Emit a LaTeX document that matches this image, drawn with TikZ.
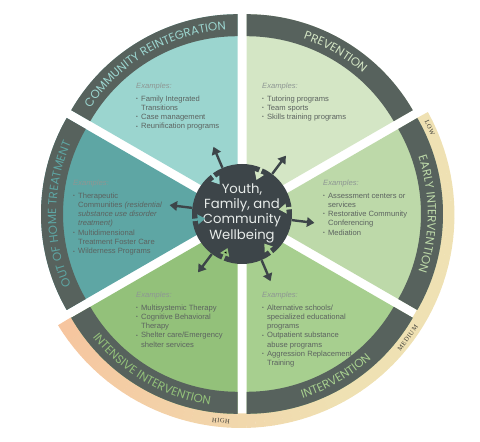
\documentclass[tikz,border=0pt]{standalone}
\usepackage{fontspec}
\setmainfont{Liberation Sans}
\newfontfamily\popfont{Poppins}
\newfontfamily\lvlfont[LetterSpace=8]{Liberation Serif}
\usetikzlibrary{arrows.meta,decorations.text,calc}

\definecolor{band}{HTML}{57625D}
\definecolor{hubc}{HTML}{3D4549}
\definecolor{crc}{HTML}{9BD5CF}
\definecolor{ooc}{HTML}{5EA6A4}
\definecolor{isc}{HTML}{93C17A}
\definecolor{ivc}{HTML}{A7CF8F}
\definecolor{eic}{HTML}{BDD9A9}
\definecolor{pvc}{HTML}{D4E6C5}
\definecolor{bodyc}{HTML}{5C6360}
\definecolor{exc}{HTML}{8E9693}
\definecolor{tanc}{HTML}{EFE1B3}
\definecolor{peachc}{HTML}{F6C49E}
\definecolor{lvlc}{HTML}{3A3A36}
\definecolor{hubtextc}{HTML}{E8ECEA}

\newcommand\titlefont{\popfont\fontsize{11.8}{12}\selectfont}
\newcommand\exlabel{\multicolumn{2}{@{}l@{}}{\color{exc}\itshape Examples:}}
\newcommand\bul{\raisebox{0.8pt}{\fontsize{5}{5}\selectfont\textbullet}}
\newcommand\wsector[3]{%
  \fill[#3] (#1) -- ($(#1)+(#2-30:192)$) arc[start angle=#2-30,end angle=#2+30,radius=192] -- cycle;
  \fill[band] ($(#1)+(#2-30:170)$) arc[start angle=#2-30,end angle=#2+30,radius=170]
     -- ($(#1)+(#2+30:192)$) arc[start angle=#2+30,end angle=#2-30,radius=192] -- cycle;}
\newcommand\toptitle[4]{%
  \path[decorate,decoration={text along path,text align=center,text color=#3,text={|\titlefont|#4}}]
    ($(#1)+(#2+30:176.8)$) arc[start angle=#2+30,end angle=#2-30,radius=176.8];}
\newcommand\bottitle[4]{%
  \path[decorate,decoration={text along path,text align=center,text color=#3,text={|\titlefont|#4}}]
    ($(#1)+(#2-30:185.2)$) arc[start angle=#2-30,end angle=#2+30,radius=185.2];}

\begin{document}
\begin{tikzpicture}[x=1pt,y=1pt,
  blk/.style={anchor=base west,inner sep=0pt,text=bodyc,font=\fontsize{7.6}{9.3}\selectfont},
  outarr/.style={draw=hubc,line width=2.4pt,-{Triangle[length=7.5pt,width=9.5pt]}},
  inarr/.style={line width=2.4pt,-{Triangle[length=7.5pt,width=9.5pt]}},
  lvl/.style={inner sep=0pt,text=lvlc,font=\lvlfont\fontsize{6.5}{7}\selectfont}]
\useasboundingbox (0,0) rectangle (480,442);
\coordinate (C) at (242,228);

% severity ring
\begin{scope}[shift={(C)}]
\foreach \i in {0,...,70}{
  \pgfmathsetmacro\angA{28.75-2.5*\i}
  \pgfmathsetmacro\angB{\angA-2.6}
  \pgfmathsetmacro\mixp{max(0,min(100,(-60-\angA)/90*100))}
  \pgfmathsetmacro\rout{212+3*(28.75-\angA)/177.5}
  \fill[peachc!\mixp!tanc] (\angA:199.5) arc[start angle=\angA,end angle=\angB,radius=199.5]
     -- (\angB:\rout) arc[start angle=\angB,end angle=\angA,radius=\rout] -- cycle;
}
\end{scope}

% sectors
\coordinate (Opv) at ($(C)+(60:9)$);
\coordinate (Oei) at ($(C)+(0:9)$);
\coordinate (Oiv) at ($(C)+(-60:9)$);
\coordinate (Ois) at ($(C)+(-120:9)$);
\coordinate (Ooo) at ($(C)+(180:9)$);
\coordinate (Ocr) at ($(C)+(120:9)$);
\wsector{Opv}{60}{pvc}
\wsector{Oei}{0}{eic}
\wsector{Oiv}{-60}{ivc}
\wsector{Ois}{-120}{isc}
\wsector{Ooo}{180}{ooc}
\wsector{Ocr}{120}{crc}

% titles
\toptitle{Opv}{60}{pvc}{PREVENTION}
\toptitle{Oei}{0}{eic}{EARLY INTERVENTION}
\toptitle{Ooo}{180}{ooc}{OUT OF HOME TREATMENT}
\toptitle{Ocr}{120}{crc}{COMMUNITY REINTEGRATION}
\bottitle{Oiv}{-60}{ivc}{INTERVENTION}
\bottitle{Ois}{-120}{isc}{INTENSIVE INTERVENTION}

% level labels
\node[lvl,rotate=-65.4] (low) at ($(C)+(24.6:206.5)$) {LOW};
\node[lvl,rotate=53.2] (med) at ($(C)+(-36.8:207)$) {MEDIUM};
\node[lvl,rotate=-5.8] (high) at ($(C)+(264.2:208)$) {HIGH};

% example texts
\node[blk] (crtxt) at (136,353) {\begin{tabular}[t]{@{}l@{\hspace{3.2pt}}l@{}}\exlabel\\[2.8pt]
  \bul & Family Integrated\\ & Transitions\\ \bul & Case management\\ \bul & Reunification programs\end{tabular}};
\node[blk] (pvtxt) at (262,353) {\begin{tabular}[t]{@{}l@{\hspace{3.2pt}}l@{}}\exlabel\\[2.8pt]
  \bul & Tutoring programs\\ \bul & Team sports\\ \bul & Skills training programs\end{tabular}};
\node[blk] (eitxt) at (323,256) {\begin{tabular}[t]{@{}l@{\hspace{3.2pt}}l@{}}\exlabel\\[2.8pt]
  \bul & Assessment centers or\\ & services\\ \bul & Restorative Community\\ & Conferencing\\ \bul & Mediation\end{tabular}};
\node[blk] (ootxt) at (73,256) {\begin{tabular}[t]{@{}l@{\hspace{3.2pt}}l@{}}\exlabel\\[2.8pt]
  \bul & Therapeutic\\ & Communities \textit{(residential}\\ & \textit{substance use disorder}\\ & \textit{treatment)}\\
  \bul & Multidimensional\\ & Treatment Foster Care\\ \bul & Wilderness Programs\end{tabular}};
\node[blk] (istxt) at (136,144) {\begin{tabular}[t]{@{}l@{\hspace{3.2pt}}l@{}}\exlabel\\[2.8pt]
  \bul & Multisystemic Therapy\\ \bul & Cognitive Behavioral\\ & Therapy\\ \bul & Shelter care/Emergency\\ & shelter services\end{tabular}};
\node[blk] (ivtxt) at (262,144) {\begin{tabular}[t]{@{}l@{\hspace{3.2pt}}l@{}}\exlabel\\[2.8pt]
  \bul & Alternative schools/\\ & specialized educational\\ & programs\\ \bul & Outpatient substance\\ & abuse programs\\
  \bul & Aggression Replacement\\ & Training\end{tabular}};

% hub
\node[circle,fill=hubc,minimum size=100pt,inner sep=0pt] (hub) at (C) {};
\node[text=hubtextc,align=center,inner sep=0pt,font=\popfont\fontsize{13.2}{15.3}\selectfont] (hubtxt) at ($(C)+(0,1)$)
  {Youth,\\Family, and\\Community\\Wellbeing};

% arrows
\foreach \t/\c in {60/pvc,0/eic,-60/ivc,-120/isc,180/ooc,120/crc}{
  \draw[outarr] (hub.\t-7) -- ($(C)+(\t-7:73)$);
  \draw[inarr,draw=\c] ($(C)+(\t+7:61)$) -- ($(C)+(\t+7:37)$);
}
\end{tikzpicture}
\end{document}
